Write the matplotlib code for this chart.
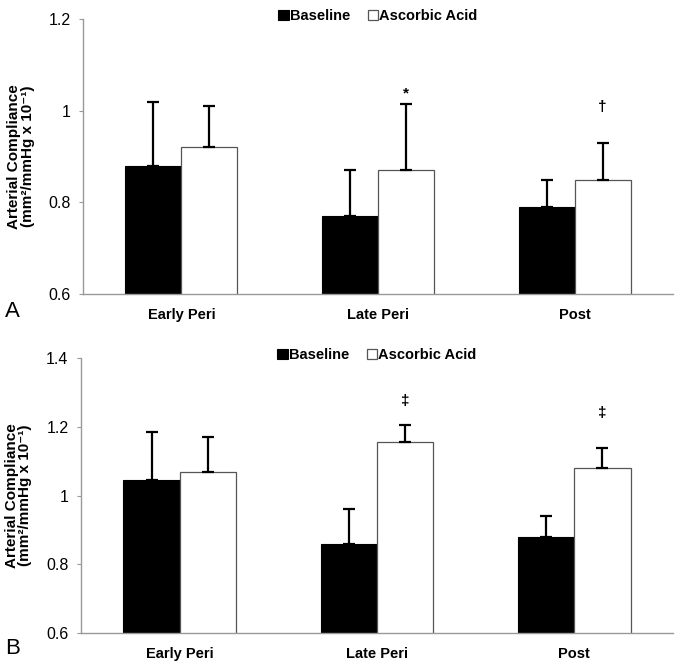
import matplotlib
matplotlib.use("Agg")
import matplotlib.pyplot as plt
import numpy as np

plt.rcParams['font.family'] = ['Liberation Sans', 'DejaVu Sans']

categories = ["Early Peri", "Late Peri", "Post"]
series_names = ["Baseline", "Ascorbic Acid"]

a_baseline = [0.88, 0.77, 0.79]
a_baseline_err = [0.14, 0.10, 0.06]
a_ascorbic = [0.92, 0.87, 0.85]
a_ascorbic_err = [0.09, 0.145, 0.08]
a_marks = ["", "*", "\u2020"]
a_mark_y = [None, 1.038, 1.008]
a_yticks = [0.6, 0.8, 1.0, 1.2]
a_yticklabels = ["0.6", "0.8", "1", "1.2"]

b_baseline = [1.045, 0.86, 0.88]
b_baseline_err = [0.14, 0.10, 0.06]
b_ascorbic = [1.07, 1.155, 1.08]
b_ascorbic_err = [0.10, 0.05, 0.06]
b_marks = ["", "\u2021", "\u2021"]
b_mark_y = [None, 1.276, 1.241]
b_yticks = [0.6, 0.8, 1.0, 1.2, 1.4]
b_yticklabels = ["0.6", "0.8", "1", "1.2", "1.4"]

ylabel = "Arterial Compliance\n(mm\u00b2/mmHg x 10\u207b\u00b9)"

fig = plt.figure(figsize=(6.75, 6.61), dpi=100)

def panel(rect, base, base_err, aa, aa_err, marks, mark_y, yticks, yticklabels, letter, letter_y):
    ax = fig.add_axes(rect)
    x = np.arange(len(categories))
    w = 0.285
    ax.bar(x - w/2, base, w, color='black', edgecolor='black', linewidth=0.8,
           yerr=[np.zeros(3), base_err], error_kw=dict(ecolor='black', elinewidth=1.6, capsize=4, capthick=1.6),
           label=series_names[0], zorder=2)
    ax.bar(x + w/2, aa, w, color='white', edgecolor='#555555', linewidth=0.9,
           yerr=[np.zeros(3), aa_err], error_kw=dict(ecolor='black', elinewidth=1.6, capsize=4, capthick=1.6),
           label=series_names[1], zorder=2)
    for i, (m, my) in enumerate(zip(marks, mark_y)):
        if m:
            ax.text(x[i] + w/2, my, m, ha='center', va='center', fontsize=11, fontweight='bold')
    ax.set_xlim(-0.5, 2.5)
    ax.set_ylim(yticks[0], yticks[-1])
    ax.set_yticks(yticks)
    ax.set_yticklabels(yticklabels, fontsize=11.5)
    ax.set_xticks(x)
    ax.set_xticklabels(categories, fontsize=10.5, fontweight='bold')
    ax.tick_params(axis='x', length=0, pad=10)
    ax.tick_params(axis='y', length=3, color='#999999', pad=6)
    for s in ['top', 'right']:
        ax.spines[s].set_visible(False)
    for s in ['left', 'bottom']:
        ax.spines[s].set_color('#999999')
        ax.spines[s].set_linewidth(1.0)
    ax.set_ylabel(ylabel, fontsize=11, fontweight='bold', linespacing=0.95)
    ax.yaxis.set_label_coords(-0.082, 0.5)
    ax.legend(loc='upper center', bbox_to_anchor=(0.5, 1.085), ncol=2, frameon=False,
              handlelength=0.7, handleheight=0.7, handletextpad=0.1,
              columnspacing=1.2, prop=dict(weight='bold', size=10.5))
    fig.text(0.008, letter_y, letter, fontsize=16, ha='left', va='center')
    return ax

panel([0.123, 0.555, 0.874, 0.416], a_baseline, a_baseline_err, a_ascorbic, a_ascorbic_err,
      a_marks, a_mark_y, a_yticks, a_yticklabels, "A", 0.528)
panel([0.120, 0.042, 0.877, 0.416], b_baseline, b_baseline_err, b_ascorbic, b_ascorbic_err,
      b_marks, b_mark_y, b_yticks, b_yticklabels, "B", 0.019)

fig.savefig("out.png", dpi=100)
